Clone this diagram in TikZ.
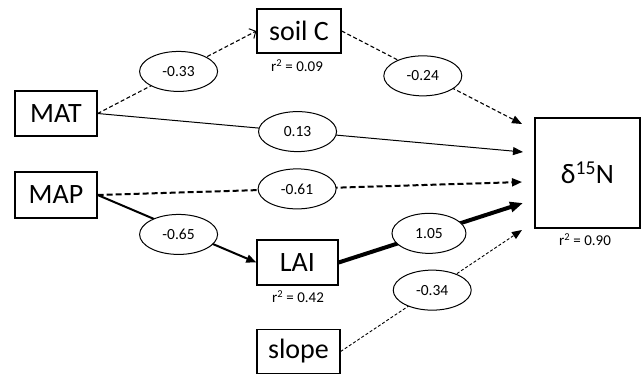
\documentclass[tikz,border=0pt]{standalone}
\usepackage{fontspec}
\setmainfont{Carlito}
\usetikzlibrary{arrows.meta,shapes.geometric}
\begin{document}
\begin{tikzpicture}[x=1pt,y=-1pt,
  var/.style={draw, line width=1.3pt, inner sep=0pt,
    font=\fontsize{28}{30}\selectfont},
  coef/.style={draw, solid, ellipse, fill=white, line width=1pt, inner sep=0pt,
    minimum width=78pt, minimum height=40pt,
    font=\fontsize{15.5}{17}\selectfont},
  rsq/.style={inner sep=0pt, font=\fontsize{15}{17}\selectfont},
  tip/.style={-{Triangle[length=10pt,width=8pt]}},
  bigtip/.style={-{Triangle[length=13pt,width=10pt]}},
  openarr/.style={-{Straight Barb[length=5pt,width=11pt,line width=1pt]}},
  shortdash/.style={dash pattern=on 4pt off 2.5pt},
  longdash/.style={dash pattern=on 6pt off 3pt},
  finedash/.style={dash pattern=on 3pt off 2pt},
]
\useasboundingbox (0,0) rectangle (641,375);

% variables
\node[var, minimum width=82pt, minimum height=45pt] (MAT) at (56,113.5) {MAT};
\node[var, minimum width=82pt, minimum height=46pt] (MAP) at (56,195) {MAP};
\node[var, minimum width=84pt, minimum height=44pt] (soil) at (299,31) {soil C};
\node[var, minimum width=81pt, minimum height=45pt] (LAI) at (297.5,262.5) {LAI};
\node[var, minimum width=83pt, minimum height=44pt] (slope) at (298.5,351.5) {slope};
\node[var, minimum width=105pt, minimum height=110pt] (N) at (587.5,173) {δ\textsuperscript{15}N};

% explained variance
\node[rsq] (rsoil) at (297,66) {r\textsuperscript{2} = 0.09};
\node[rsq] (rLAI) at (298,297) {r\textsuperscript{2} = 0.42};
\node[rsq] (rN) at (585,240) {r\textsuperscript{2} = 0.90};

% arrow ends in front of the response box
\coordinate (e1) at (522,124);
\coordinate (e2) at (523,152);
\coordinate (e3) at (522,182);
\coordinate (e4) at (523,203);
\coordinate (e5) at (522,230);

% paths with standardised coefficients
\draw[openarr, shortdash, line width=1.1pt] (MAT.east) -- (soil.west)
  node[coef, pos=0.51] (c1) {-0.33};
\draw[tip, line width=1pt] (MAT.east) -- (e2)
  node[coef, pos=0.47] (c2) {0.13};
\draw[tip, shortdash, line width=1.1pt] (soil.east) -- (e1)
  node[coef, pos=0.45, yshift=-3pt] (c3) {-0.24};
\draw[tip, longdash, line width=2pt] (MAP.east) -- (e3)
  node[coef, pos=0.47] (c4) {-0.61};
\draw[tip, line width=2pt] (MAP.east) -- (LAI.west)
  node[coef, pos=0.51, yshift=-5pt] (c5) {-0.65};
\draw[bigtip, line width=4pt] (LAI.east) -- (e4)
  node[coef, pos=0.49, minimum width=74pt] (c6) {1.05};
\draw[tip, finedash, line width=0.9pt] (slope.east) -- (e5)
  node[coef, pos=0.505] (c7) {-0.34};
\end{tikzpicture}
\end{document}
